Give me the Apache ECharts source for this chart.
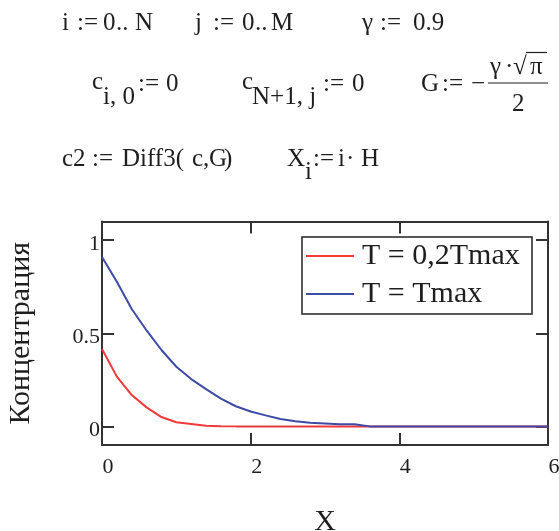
<!DOCTYPE html>
<html>
<head>
<meta charset="utf-8">
<script src="https://cdn.jsdelivr.net/npm/echarts@6/dist/echarts.min.js"></script>
<style>
html,body{margin:0;padding:0;background:#fff;}
#c{width:559px;height:531px;}
</style>
</head>
<body>
<div id="c"></div>
<script>
// ---- data ----
const xValues = [0,0.2,0.4,0.6,0.8,1.0,1.2,1.4,1.6,1.8,2.0,2.2,2.4,2.6,2.8,3.0,3.2,3.4,3.6,3.8,4.0,4.2,4.4,4.6,4.8,5.0,5.2,5.4,5.6,5.8,6.0];
const redValues = [0.415,0.267,0.168,0.102,0.05,0.022,0.013,0.003,0.001,0,0,0,0,0,0,0,0,0,0,0,0,0,0,0,0,0,0,0,0,0,0];
const blueValues = [0.91,0.776,0.63,0.515,0.41,0.32,0.254,0.2,0.149,0.108,0.08,0.059,0.04,0.027,0.02,0.016,0.012,0.011,0,0,0,0,0,0,0,0,0,0,0,0,0];
const seriesNames = ['T = 0,2Tmax', 'T = Tmax'];
const xTicks = [0,2,4,6];
const yTicks = [0,0.5,1];
const yTitle = 'Концентрация';
const xTitle = 'X';

const SERIF = "'Liberation Serif', 'DejaVu Serif', serif";
const F = '25px ' + SERIF;
const INK = '#1e1e1e';
const AX = '#333';

function T(text, x, y, font) {
  return { type: 'text', x: x, y: y, style: { text: text, font: font || F, fill: INK, textAlign: 'left', textVerticalAlign: 'middle', verticalAlign: 'middle' } };
}

const graphics = [
  // row 1
  T('i', 62, 23), T(':=', 77, 23), T('0', 103, 23), T('..', 116, 23), T('N', 135, 23),
  T('j', 195, 23), T(':=', 213, 23), T('0', 242, 23), T('..', 255, 23), T('M', 271, 23),
  T('γ', 362, 23), T(':=', 380, 23), T('0.9', 413, 23),
  // row 2
  T('c', 92, 82),
  T('i, 0', 103, 97),
  T(':=', 138, 84), T('0', 166, 84),
  T('c', 242, 82),
  T('N+1, j', 252, 97),
  T(':=', 323, 84), T('0', 352, 84),
  T('G', 421, 84), T(':=', 442, 84), T('−', 471, 84),
  T('γ', 490, 67), T('·', 505, 67),
  T('√', 513, 67),
  T('π', 530, 67),
  { type: 'line', shape: { x1: 526, y1: 52.5, x2: 547, y2: 52.5 }, style: { stroke: INK, lineWidth: 1.2 } },
  { type: 'line', shape: { x1: 488, y1: 83, x2: 548, y2: 83 }, style: { stroke: INK, lineWidth: 1.2 } },
  T('2', 512, 104),
  // row 3
  T('c2', 62, 159), T(':=', 92, 159), T('Diff3(', 122, 159),
  T('c', 192, 159), T(',', 203, 159), T('G', 209, 159), T(')', 224, 159),
  T('X', 287, 159),
  T('i', 305, 172),
  T(':=', 313, 159), T('i', 338, 159), T('·', 346, 159), T('H', 361, 159),
  // legend frame
  { type: 'rect', shape: { x: 302, y: 237, width: 230, height: 77 }, style: { fill: 'rgba(0,0,0,0)', stroke: '#222', lineWidth: 1.5 }, z: 10 }
];

const chart = echarts.init(document.getElementById('c'), null, { renderer: 'canvas' });

const labelStyle = { fontFamily: SERIF, fontSize: 22, color: INK };

chart.setOption({
  animation: false,
  backgroundColor: '#fff',
  grid: { left: 102, right: 11, top: 221.5, bottom: 86, containLabel: false, outerBoundsMode: 'none' },
  legend: {
    orient: 'vertical',
    left: 306,
    top: 241,
    padding: 0,
    itemGap: 8,
    itemWidth: 48,
    itemHeight: 2,
    icon: 'rect',
    data: seriesNames,
    textStyle: { fontFamily: SERIF, fontSize: 30, color: INK, lineHeight: 30, padding: [0, 0, 0, 3] }
  },
  xAxis: [
    {
      type: 'value', position: 'bottom', min: 0, max: 6, interval: 2,
      name: xTitle, nameLocation: 'middle', nameGap: 62,
      nameTextStyle: { fontFamily: SERIF, fontSize: 30, color: INK },
      axisLine: { show: true, onZero: false, lineStyle: { color: AX, width: 2 } },
      axisTick: { show: true, inside: true, length: 12, lineStyle: { color: AX, width: 2 } },
      axisLabel: Object.assign({ margin: 11, padding: [0, 0, 0, 12], formatter: v => String(v), customValues: xTicks }, labelStyle),
      splitLine: { show: false }
    },
    {
      type: 'value', position: 'top', min: 0, max: 6, interval: 2,
      axisLine: { show: true, onZero: false, lineStyle: { color: AX, width: 2 } },
      axisTick: { show: true, inside: true, length: 12, lineStyle: { color: AX, width: 2 } },
      axisLabel: { show: false },
      splitLine: { show: false }
    }
  ],
  yAxis: [
    {
      type: 'value', position: 'left', min: -0.1, max: 1.1,
      name: yTitle, nameLocation: 'middle', nameGap: 66, nameRotate: 90,
      nameTextStyle: { fontFamily: SERIF, fontSize: 30, color: INK },
      axisLine: { show: true, onZero: false, lineStyle: { color: AX, width: 2 } },
      axisTick: { show: true, inside: true, length: 12, customValues: yTicks, lineStyle: { color: AX, width: 2 } },
      axisLabel: Object.assign({ margin: 2, verticalAlign: 'top', lineHeight: 8, customValues: yTicks, formatter: v => String(v) }, labelStyle),
      splitLine: { show: false }
    },
    {
      type: 'value', position: 'right', min: -0.1, max: 1.1,
      axisLine: { show: true, onZero: false, lineStyle: { color: AX, width: 2 } },
      axisTick: { show: true, inside: true, length: 12, customValues: yTicks, lineStyle: { color: AX, width: 2 } },
      axisLabel: { show: false },
      splitLine: { show: false }
    }
  ],
  series: [
    {
      name: seriesNames[0], type: 'line', xAxisIndex: 0, yAxisIndex: 0,
      data: xValues.map((x, i) => [x, redValues[i]]),
      showSymbol: false, symbol: 'none', smooth: false,
      lineStyle: { color: '#f03a3a', width: 2 }, itemStyle: { color: '#f03a3a' },
      z: 2
    },
    {
      name: seriesNames[1], type: 'line', xAxisIndex: 0, yAxisIndex: 0,
      data: xValues.map((x, i) => [x, blueValues[i]]),
      showSymbol: false, symbol: 'none', smooth: false,
      lineStyle: { color: '#3d4ba6', width: 2 }, itemStyle: { color: '#3d4ba6' },
      z: 3
    }
  ],
  graphic: graphics
});
</script>
</body>
</html>
